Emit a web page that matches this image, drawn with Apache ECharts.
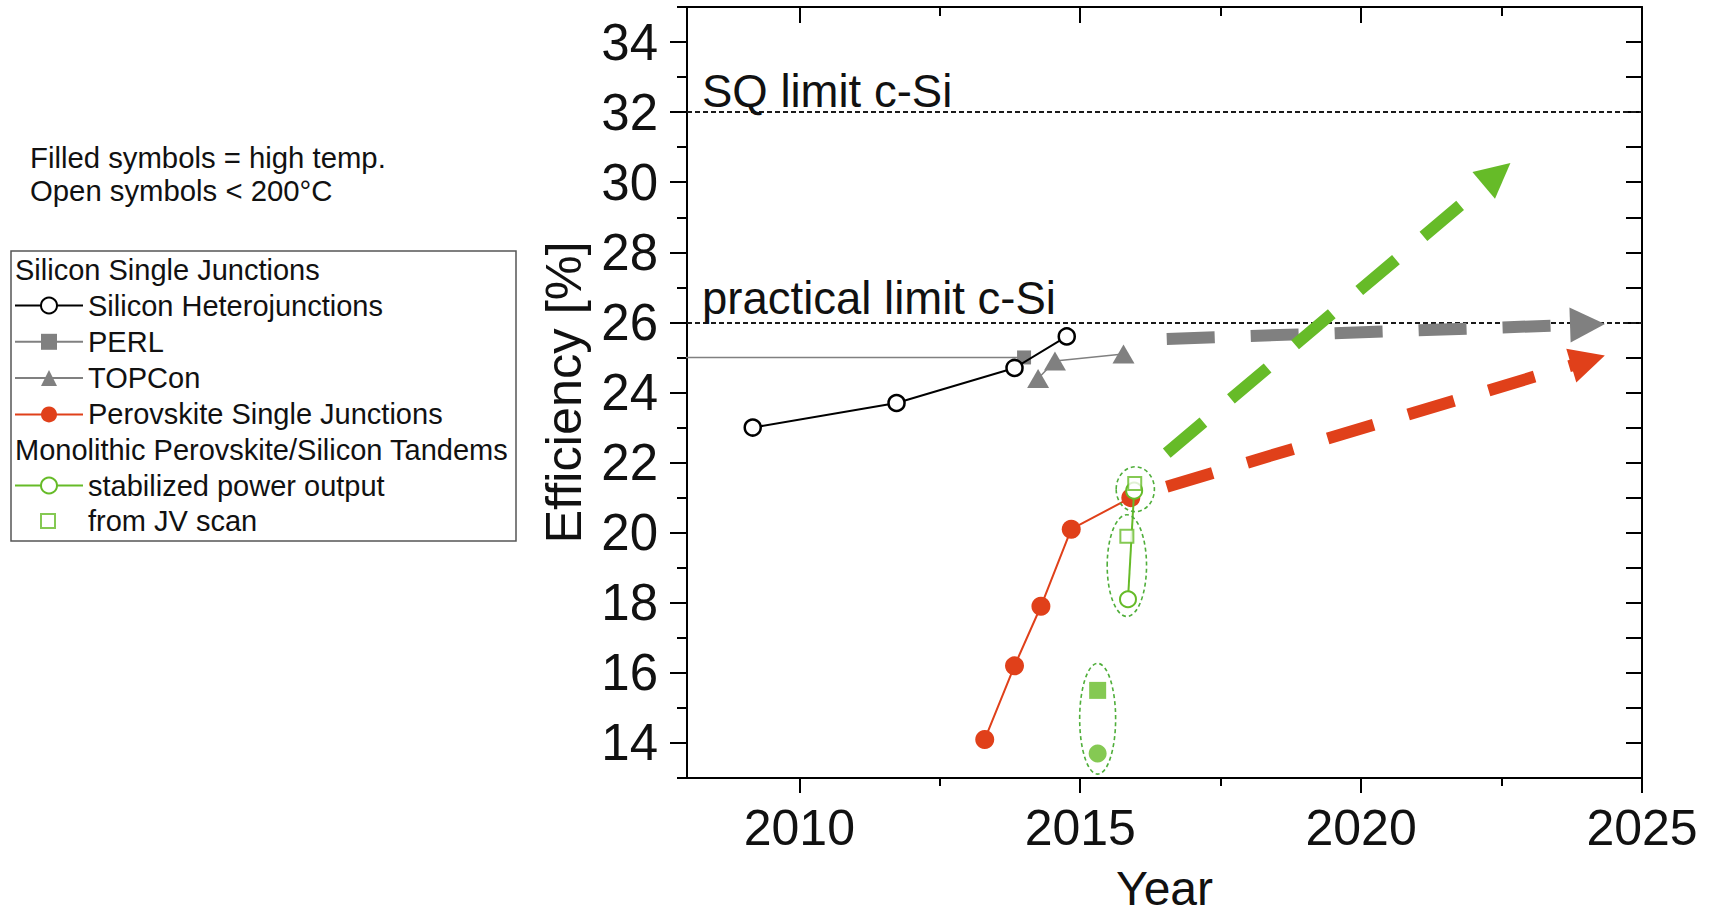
<!DOCTYPE html>
<html>
<head>
<meta charset="utf-8">
<script src="https://cdn.jsdelivr.net/npm/echarts@6/dist/echarts.min.js"></script>
<style>
html,body{margin:0;padding:0;background:#fff;}
#chart{width:1711px;height:915px;}
</style>
</head>
<body>
<div id="chart"></div>
<script>
// ---------------- data ----------------
const hjYears = [2009.17, 2011.73, 2013.83, 2014.76];
const hjEff = [23.0, 23.7, 24.7, 25.6];

const perlYears = [1999.0, 2014.0];
const perlEff = [25.0, 25.0];

const topconYears = [2014.25, 2014.55, 2015.77];
const topconEff = [24.4, 24.9, 25.1];

const pskYears = [2013.30, 2013.83, 2014.30, 2014.84, 2015.90];
const pskEff = [14.1, 16.2, 17.9, 20.1, 21.0];

const spoYears = [2015.85, 2015.96];
const spoEff = [18.1, 21.2];

const jvYears = [2015.83, 2015.97];
const jvEff = [19.9, 21.4];

const htSpoYears = [2015.31];
const htSpoEff = [13.7];
const htJvYears = [2015.31];
const htJvEff = [15.5];

const limitValues = [32, 26];
const limitLabels = ['SQ limit c-Si', 'practical limit c-Si'];

// group ellipses: [centre year, centre efficiency, half-width (years), half-height (%)]
const groupEllipses = [
  [2015.31, 14.69, 0.32, 1.58],
  [2015.83, 19.06, 0.35, 1.45],
  [2015.98, 21.24, 0.34, 0.64]
];

// trend arrows: [start], [end]
const trendGray = [[2016.54, 25.53], [2024.03, 25.94]];
const trendRed = [[2016.54, 21.31], [2024.04, 24.91]];
const trendGreen = [[2016.54, 22.27], [2022.42, 30.23]];

const xLabelTicks = [2010, 2015, 2020, 2025];
const xTopTicks = [2010, 2015, 2020];
const xMinorTicks = [2012.5, 2017.5, 2022.5];
const yLabelTicks = [14, 16, 18, 20, 22, 24, 26, 28, 30, 32, 34];
const yMinorTicks = [13, 15, 17, 19, 21, 23, 25, 27, 29, 31, 33, 35];
const yRightTicks = [14, 15, 16, 17, 18, 19, 20, 21, 22, 23, 24, 25, 26, 27, 28, 29, 30, 31, 32, 33, 34];

const noteLines = ['Filled symbols = high temp.', 'Open symbols < 200°C'];
const legendHeaders = ['Silicon Single Junctions', 'Monolithic Perovskite/Silicon Tandems'];

// ---------------- styles ----------------
const FONT = '"Liberation Sans", Arial, Helvetica, sans-serif';
const GREEN = '#66bb28';
const GREEN_D = '#4fae3a';
const RED = '#e0401a';
const GRAY = '#808080';
const INK = '#111111';
const X_MIN = 2008, X_MAX = 2025, Y_MIN = 13, Y_MAX = 35;
const LEG_FS = 29;

function pts(xs, ys) { return xs.map((x, i) => [x, ys[i]]); }

const chart = echarts.init(document.getElementById('chart'), null, { renderer: 'svg' });

const axisLineStyle = { show: true, lineStyle: { color: '#000', width: 2 } };
const plainNum = function (v) { return String(v); };

function xAxisDef(position, ticks, len, inside, labels, extra) {
  return Object.assign({
    type: 'value', min: X_MIN, max: X_MAX, position: position,
    axisLine: axisLineStyle,
    splitLine: { show: false },
    axisTick: { show: true, inside: inside, length: len, customValues: ticks,
      lineStyle: { color: '#000', width: 2 } },
    axisLabel: labels ? {
      show: true, customValues: labels, formatter: plainNum,
      fontSize: 50, fontFamily: FONT, color: INK, margin: 25
    } : { show: false }
  }, extra || {});
}
function yAxisDef(position, ticks, len, inside, labels, extra) {
  return Object.assign({
    type: 'value', min: Y_MIN, max: Y_MAX, position: position,
    axisLine: axisLineStyle,
    splitLine: { show: false },
    axisTick: { show: true, inside: inside, length: len, customValues: ticks,
      lineStyle: { color: '#000', width: 2 } },
    axisLabel: labels ? {
      show: true, customValues: labels, formatter: plainNum,
      fontSize: 51, fontFamily: FONT, color: INK, margin: 29
    } : { show: false }
  }, extra || {});
}

const legendText = { fontSize: LEG_FS, fontFamily: FONT, color: INK };

const option = {
  animation: false,
  backgroundColor: '#fff',
  grid: { left: 687, right: 69, top: 7, bottom: 137, outerBoundsMode: 'none', containLabel: false },
  xAxis: [
    xAxisDef('bottom', xLabelTicks, 15, false, xLabelTicks, {
      name: 'Year', nameLocation: 'middle', nameGap: 86,
      nameTextStyle: { fontSize: 48, fontFamily: FONT, color: INK }
    }),
    xAxisDef('bottom', xMinorTicks, 8, false, null, { axisLine: { show: false } }),
    xAxisDef('top', xTopTicks, 16, true, null),
    xAxisDef('top', xMinorTicks, 9, true, null, { axisLine: { show: false } })
  ],
  yAxis: [
    yAxisDef('left', yLabelTicks, 17, false, yLabelTicks, {
      name: 'Efficiency [%]', nameLocation: 'middle', nameGap: 98,
      nameTextStyle: { fontSize: 50.5, fontFamily: FONT, color: INK }
    }),
    yAxisDef('left', yMinorTicks, 10, false, null, { axisLine: { show: false } }),
    yAxisDef('right', yRightTicks, 16, true, null)
  ],
  legend: [
    {
      data: [
        { name: 'Silicon Heterojunctions', itemStyle: { color: '#fff', borderColor: '#000', borderWidth: 2 } },
        { name: 'PERL' },
        { name: 'TOPCon' },
        { name: 'Perovskite Single Junctions' }
      ],
      orient: 'vertical', left: 14, top: 291, padding: 0, itemGap: 7.3,
      itemWidth: 68, itemHeight: 20, selectedMode: false, textStyle: legendText
    },
    {
      data: [
        { name: 'stabilized power output', itemStyle: { color: '#fff', borderColor: GREEN, borderWidth: 2 } }
      ],
      orient: 'vertical', left: 14, top: 471, padding: 0,
      itemWidth: 68, itemHeight: 20, selectedMode: false, textStyle: legendText
    },
    {
      data: [
        { name: 'from JV scan', itemStyle: { color: '#fff', borderColor: GREEN, borderWidth: 2 } }
      ],
      orient: 'vertical', left: 40, top: 506.5, padding: 0,
      itemWidth: 14, itemHeight: 14, selectedMode: false,
      textStyle: { fontSize: LEG_FS, fontFamily: FONT, color: INK, padding: [0, 0, 0, 28] }
    }
  ],
  graphic: {
    elements: [
      { type: 'text', x: 30, y: 157, silent: true,
        style: { text: noteLines[0], fontSize: 29.3, fontFamily: FONT, fill: INK, align: 'left', verticalAlign: 'middle' } },
      { type: 'text', x: 30, y: 190, silent: true,
        style: { text: noteLines[1], fontSize: 29.3, fontFamily: FONT, fill: INK, align: 'left', verticalAlign: 'middle' } },
      { type: 'rect', silent: true, shape: { x: 11, y: 251, width: 505, height: 290 },
        style: { fill: 'none', stroke: '#555', lineWidth: 1.5 } },
      { type: 'text', x: 15, y: 270, silent: true,
        style: { text: legendHeaders[0], fontSize: LEG_FS, fontFamily: FONT, fill: INK, align: 'left', verticalAlign: 'middle' } },
      { type: 'text', x: 15, y: 450, silent: true,
        style: { text: legendHeaders[1], fontSize: LEG_FS, fontFamily: FONT, fill: INK, align: 'left', verticalAlign: 'middle' } }
    ]
  },
  series: [
    {
      name: 'Silicon Heterojunctions', type: 'line', data: pts(hjYears, hjEff),
      symbol: 'circle', symbolSize: 16,
      lineStyle: { color: '#000', width: 2 },
      itemStyle: { color: '#fff', borderColor: '#000', borderWidth: 2.5 },
      z: 4,
      markLine: {
        silent: true, symbol: 'none', animation: false,
        lineStyle: { type: [5, 3], color: '#1a1a1a', width: 2 },
        label: { show: true, position: 'insideStartTop', fontSize: 45.5, fontFamily: FONT, color: INK },
        data: limitValues.map((v, i) => ({
          yAxis: v,
          label: { formatter: limitLabels[i], distance: i === 0 ? [15, -2] : [15, 1] }
        }))
      }
    },
    {
      name: 'PERL', type: 'line', data: pts(perlYears, perlEff), clip: true,
      symbol: 'rect', symbolSize: 14,
      lineStyle: { color: GRAY, width: 1.5 }, itemStyle: { color: GRAY }, z: 3
    },
    {
      name: 'TOPCon', type: 'line', data: pts(topconYears, topconEff),
      symbol: 'triangle', symbolSize: [22, 19],
      lineStyle: { color: GRAY, width: 1.5 }, itemStyle: { color: GRAY }, z: 3
    },
    {
      name: 'Perovskite Single Junctions', type: 'line', data: pts(pskYears, pskEff),
      symbol: 'circle', symbolSize: 19,
      lineStyle: { color: RED, width: 2 }, itemStyle: { color: RED }, z: 4
    },
    {
      name: 'stabilized power output', type: 'line', data: pts(spoYears, spoEff),
      symbol: 'circle', symbolSize: 16,
      lineStyle: { color: GREEN, width: 2 },
      itemStyle: { color: '#fff', borderColor: GREEN, borderWidth: 2 }, z: 5
    },
    {
      name: 'from JV scan', type: 'scatter', data: pts(jvYears, jvEff),
      symbol: 'rect', symbolSize: 13,
      itemStyle: { color: '#fff', borderColor: GREEN, borderWidth: 2 }, z: 5
    },
    {
      name: 'stabilized power output (high temp.)', type: 'scatter', data: pts(htSpoYears, htSpoEff),
      symbol: 'circle', symbolSize: 18, itemStyle: { color: GREEN }, z: 5
    },
    {
      name: 'from JV scan (high temp.)', type: 'scatter', data: pts(htJvYears, htJvEff),
      symbol: 'rect', symbolSize: 17, itemStyle: { color: GREEN }, z: 5
    },
    {
      name: 'groups', type: 'custom', data: groupEllipses, silent: true, z: 6,
      renderItem: function (params, api) {
        const c = api.coord([api.value(0), api.value(1)]);
        const s = api.size([api.value(2), api.value(3)]);
        return {
          type: 'ellipse',
          shape: { cx: c[0], cy: c[1], rx: s[0], ry: s[1] },
          style: { fill: 'none', stroke: GREEN_D, lineWidth: 1.6, lineDash: [4, 3] }
        };
      }
    },
    {
      name: 'trends', type: 'line', data: [], z: 7,
      markLine: {
        silent: true, animation: false,
        label: { show: false },
        data: [
          [trendGray, GRAY], [trendRed, RED], [trendGreen, GREEN]
        ].map(function (t) {
          const ls = { color: t[1], width: 12, type: [48, 36], cap: 'butt' };
          return [
            { coord: t[0][0], symbol: 'none', lineStyle: ls },
            { coord: t[0][1], symbol: 'triangle', symbolSize: 35, lineStyle: ls }
          ];
        })
      }
    }
  ]
};

chart.setOption(option);
</script>
</body>
</html>
